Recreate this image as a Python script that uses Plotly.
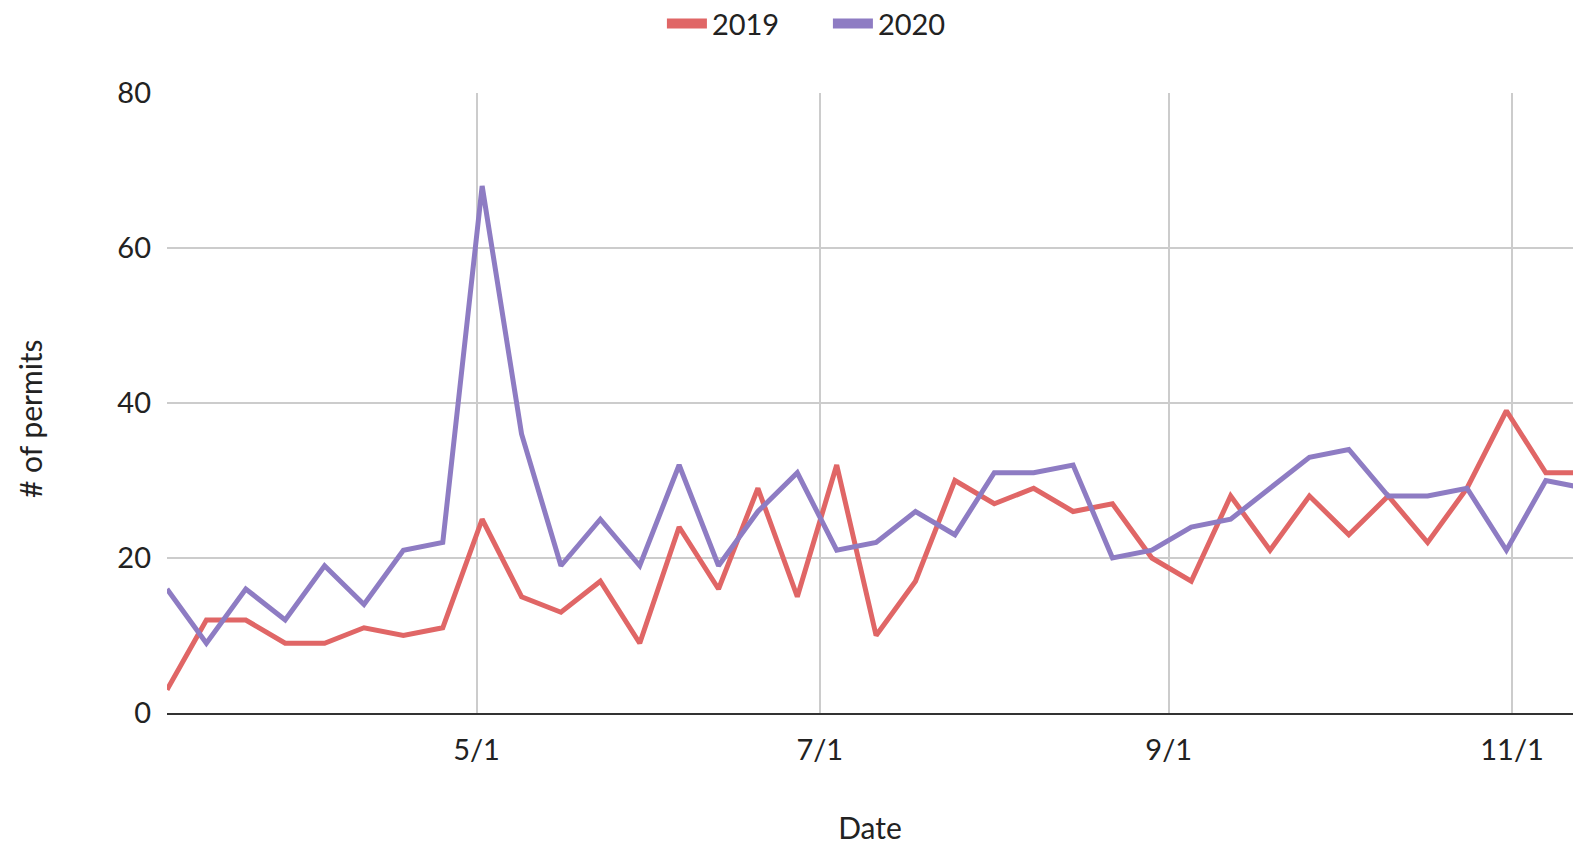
import pandas as pd
import plotly.graph_objects as go

# Weekly dates (week starting) – the chart shows March through mid-November
week_start = "2020-03-07"
n_weeks = 37
dates = pd.date_range(week_start, periods=n_weeks, freq="7D")

permits_2019 = [3, 12, 12, 9, 9, 11, 10, 11, 25, 15, 13, 17, 9, 24, 16, 29, 15, 32, 10, 17,
                30, 27, 29, 26, 27, 20, 17, 28, 21, 28, 23, 28, 22, 29, 39, 31, 31]
permits_2020 = [16, 9, 16, 12, 19, 14, 21, 22, 68, 36, 19, 25, 19, 32, 19, 26, 31, 21, 22, 26,
                23, 31, 31, 32, 20, 21, 24, 25, 29, 33, 34, 28, 28, 29, 21, 30, 29]

series_names = ["2019", "2020"]
series_colors = ["#e06666", "#8e7cc3"]

tick_dates = ["2020-05-01", "2020-07-01", "2020-09-01", "2020-11-01"]
tick_labels = ["5/1", "7/1", "9/1", "11/1"]
y_ticks = [0, 20, 40, 60, 80]

x_range = ["2020-03-07", "2020-11-11 20:00"]

FONT = "Lato"
TXT = "#222222"
fig = go.Figure()

for name, vals, col in zip(series_names, [permits_2019, permits_2020], series_colors):
    fig.add_trace(go.Scatter(
        x=dates, y=vals, mode="lines", name=name,
        line=dict(color=col, width=5), showlegend=False, cliponaxis=True,
    ))
    # legend swatch (thick bar like the original)
    fig.add_trace(go.Scatter(
        x=[None], y=[None], mode="lines", name=name,
        line=dict(color=col, width=10), showlegend=True,
    ))

fig.update_layout(
    width=1573, height=845,
    margin=dict(l=167, r=0, t=93, b=132, autoexpand=False),
    paper_bgcolor="white", plot_bgcolor="white",
    font=dict(family=FONT, size=29, color=TXT),
    legend=dict(orientation="h", x=0.352, xanchor="left", y=1.112, yanchor="middle",
                font=dict(family=FONT, size=29, color=TXT),
                itemwidth=40, entrywidth=111, entrywidthmode="pixels"),
    showlegend=True,
    annotations=[dict(
        text="# of permits", xref="paper", yref="paper",
        x=(30 - 167) / 1406, y=(713 - 419) / 620, xanchor="center", yanchor="middle",
        textangle=-90, showarrow=False, font=dict(family=FONT, size=30, color=TXT),
    )],
)

fig.update_xaxes(
    range=x_range, tickvals=tick_dates, ticktext=tick_labels,
    showgrid=True, gridcolor="#cccccc", gridwidth=2,
    showline=True, linecolor="#333333", linewidth=2,
    zeroline=False, ticks="", ticklabelstandoff=10,
    tickfont=dict(family=FONT, size=29, color=TXT),
    title=dict(text="Date", font=dict(family=FONT, size=30, color=TXT), standoff=57),
)
fig.update_yaxes(
    range=[0, 80], tickvals=y_ticks,
    showgrid=True, gridcolor="#cccccc", gridwidth=2,
    zeroline=False, showline=False, ticks="", ticklabelstandoff=15,
    tickfont=dict(family=FONT, size=29, color=TXT),
)

fig.write_html(
    "out.html",
    config={"displayModeBar": False},
    post_script="document.body.style.margin='0';document.body.style.overflow='hidden';",
)
